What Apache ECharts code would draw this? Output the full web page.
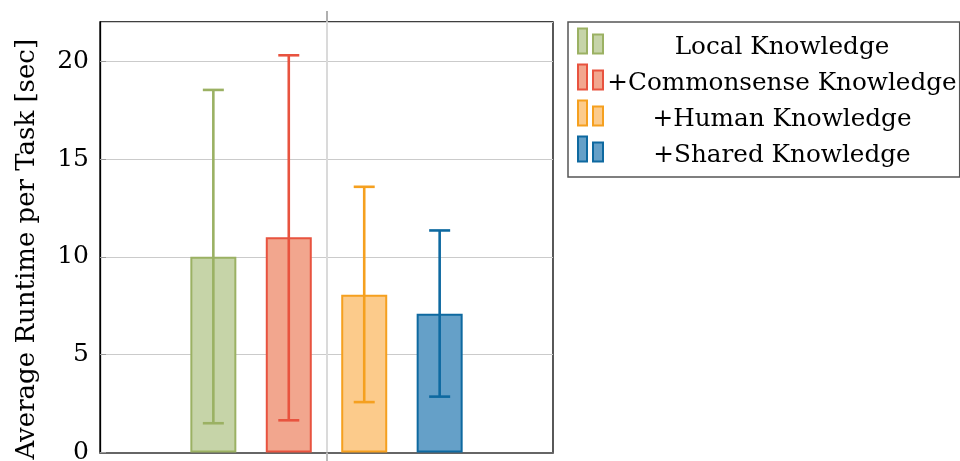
<!DOCTYPE html>
<html>
<head>
<meta charset="utf-8">
<script src="https://cdn.jsdelivr.net/npm/echarts@6/dist/echarts.min.js"></script>
<style>
  html, body { margin: 0; padding: 0; background: #fff; }
  #chart { width: 960px; height: 461px; }
</style>
</head>
<body>
<div id="chart"></div>
<script>
// Average runtime per task for each knowledge configuration (seconds)
const categories = ['Runtime'];
const seriesNames = ['Local Knowledge', '+Commonsense Knowledge', '+Human Knowledge', '+Shared Knowledge'];
const meanRuntime = [10.0, 11.0, 8.07, 7.09];
const errorLow = [1.5, 1.65, 2.58, 2.86];
const errorHigh = [18.53, 20.3, 13.58, 11.35];
const yTicks = [0, 5, 10, 15, 20];

const fillColors = ['#c6d4a8', '#f2a68e', '#fccb8b', '#65a0c8'];
const strokeColors = ['#9bb163', '#e8533f', '#f5a01f', '#0e69a0'];

const FONT = 'DejaVu Serif';
const FS = 25;
const LEGEND_FS = 24.7;
const BAR_WIDTH = 46;
const BAR_GAP = '64%';

const chart = echarts.init(document.getElementById('chart'), null, { renderer: 'canvas' });

const barSeries = seriesNames.map((name, i) => ({
  name: name,
  type: 'bar',
  xAxisIndex: 0,
  barWidth: BAR_WIDTH,
  barGap: BAR_GAP,
  data: [meanRuntime[i]],
  itemStyle: { color: fillColors[i], borderColor: strokeColors[i], borderWidth: 2 },
  emphasis: { disabled: true },
  z: 2
}));

const errorSeries = seriesNames.map((name, i) => ({
  name: name + ' error',
  type: 'custom',
  xAxisIndex: 0,
  data: [[0, errorLow[i], errorHigh[i]]],
  z: 5,
  renderItem: function (params, api) {
    const layout = api.barLayout({ count: seriesNames.length, barWidth: BAR_WIDTH, barGap: BAR_GAP });
    const lo = api.coord([api.value(0), api.value(1)]);
    const hi = api.coord([api.value(0), api.value(2)]);
    const x = lo[0] + layout[i].offsetCenter;
    const half = 10.5;
    const style = { stroke: strokeColors[i], lineWidth: 2.6, fill: null };
    return {
      type: 'group',
      children: [
        { type: 'line', shape: { x1: x, y1: lo[1], x2: x, y2: hi[1] }, style: style },
        { type: 'line', shape: { x1: x - half, y1: hi[1], x2: x + half, y2: hi[1] }, style: style },
        { type: 'line', shape: { x1: x - half, y1: lo[1], x2: x + half, y2: lo[1] }, style: style }
      ]
    };
  }
}));

const option = {
  animation: false,
  backgroundColor: '#fff',
  textStyle: { fontFamily: FONT },
  grid: {
    left: 100, right: 407, top: 22, bottom: 8.4,
    outerBoundsMode: 'none',
    containLabel: false,
    show: true, borderColor: '#000', borderWidth: 1.3, backgroundColor: 'transparent'
  },
  legend: {
    orient: 'vertical',
    left: 568, top: 22,
    padding: [5.5, 3, 6.5, 9],
    itemWidth: 25, itemHeight: 33, itemGap: 1,
    textGap: 5,
    borderColor: '#555', borderWidth: 1.5, borderRadius: 0,
    data: seriesNames,
    icon: 'path://M0,0h9v25h-9z M15,6h10v19h-10z M0,33',
    selectedMode: false,
    formatter: '{t|{name}}',
    textStyle: {
      fontFamily: FONT,
      rich: {
        t: {
          width: 348, align: 'center', fontSize: LEGEND_FS, fontFamily: FONT,
          color: '#000', lineHeight: 26, padding: [6, 0, 0, 0]
        }
      }
    }
  },
  xAxis: [
    {
      type: 'category', data: categories, position: 'bottom',
      axisLine: { show: true, onZero: false, lineStyle: { color: '#666', width: 2 } },
      axisTick: { show: true, alignWithLabel: true, length: 10, lineStyle: { color: '#bbb', width: 2 } },
      axisLabel: { show: false },
      splitLine: { show: false }
    },
    {
      type: 'category', data: categories, position: 'top',
      axisLine: { show: false, onZero: false },
      axisTick: { show: true, alignWithLabel: true, length: 11, lineStyle: { color: '#b0b0b0', width: 2 } },
      axisLabel: { show: false },
      splitLine: { show: false }
    },
    {
      // helper axis carrying the vertical grid line through the group centre
      type: 'value', min: -1, max: 1, interval: 1, position: 'bottom',
      axisLine: { show: false, onZero: false }, axisTick: { show: false }, axisLabel: { show: false },
      splitLine: { show: true, showMinLine: false, showMaxLine: false, lineStyle: { color: '#dadada', width: 2 } }
    }
  ],
  yAxis: {
    type: 'value', min: 0, max: 22, interval: 5,
    name: 'Average Runtime per Task [sec]',
    nameLocation: 'middle', nameGap: 60, nameRotate: 90,
    nameTextStyle: { fontFamily: FONT, fontSize: 26, color: '#000', padding: [0, 24, 0, 0] },
    axisLine: { show: true, onZero: false, lineStyle: { color: '#000', width: 1.3 } },
    axisTick: { show: true, inside: true, length: 6, lineStyle: { color: '#999' } },
    axisLabel: {
      fontFamily: FONT, fontSize: FS, color: '#000', margin: 11,
      showMaxLabel: false,
      formatter: v => (yTicks.indexOf(v) >= 0 ? String(v) : '')
    },
    splitLine: { show: true, lineStyle: { color: '#cbcbcb', width: 1 } }
  },
  series: barSeries.concat(errorSeries)
};

chart.setOption(option);
</script>
</body>
</html>
